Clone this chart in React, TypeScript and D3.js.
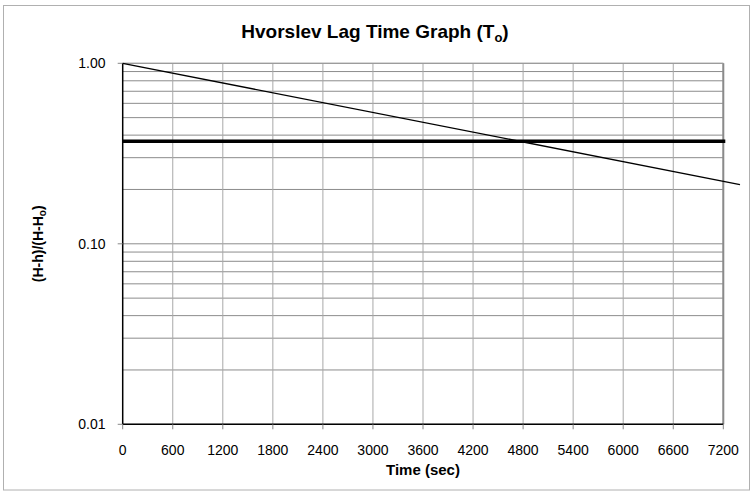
import React from "react";
import * as d3 from "d3";

// Normalized head ratio vs. time, Hvorslev slug test
const timeSec = [0, 7400];
const headRatio = [1.0, 0.213];
// 0.37 reference level used to read the basic time lag T0
const lagLevel = 0.37;

const xTicks = [0, 600, 1200, 1800, 2400, 3000, 3600, 4200, 4800, 5400, 6000, 6600, 7200];
const yMajorTicks = [1, 0.1, 0.01];
const yTickLabels = ["1.00", "0.10", "0.01"];

const W = 753;
const H = 493;
const M = { left: 122.7, right: 723.3, top: 63.3, bottom: 424.3 };
const FONT = "'Liberation Sans', Arial, Helvetica, sans-serif";

export default function App() {
  const x = d3.scaleLinear().domain([0, 7200]).range([M.left, M.right]);
  const y = d3.scaleLog().domain([0.01, 1]).range([M.bottom, M.top]);

  // minor log grid: 0.01..0.09, 0.1..0.9, 1
  const yGrid: number[] = [];
  [0.01, 0.1].forEach((d) => {
    for (let k = 1; k <= 9; k++) yGrid.push(+(d * k).toFixed(4));
  });
  yGrid.push(1);

  const line = d3
    .line<number>()
    .x((_, i) => x(timeSec[i]))
    .y((v) => y(v));

  return (
    <div style={{ position: "fixed", left: 0, top: 0 }}>
      <svg width={W} height={H} style={{ display: "block", background: "#fff" }}>
        <rect x={3.5} y={5.5} width={746} height={484.5} fill="none" stroke="#b0b0b0" strokeWidth={1} />

        {/* horizontal grid */}
        {yGrid.map((v) => (
          <line key={"hy" + v} x1={M.left} x2={M.right} y1={y(v)} y2={y(v)} stroke="#8c8c8c" strokeWidth={1} />
        ))}
        {/* vertical grid */}
        {xTicks.slice(1).map((t) => (
          <line key={"vx" + t} x1={x(t)} x2={x(t)} y1={M.top} y2={M.bottom} stroke="#a8a8a8" strokeWidth={1} />
        ))}
        {/* right & top frame */}
        <line x1={M.right} x2={M.right} y1={M.top} y2={M.bottom} stroke="#8a8a8a" strokeWidth={2} />
        <line x1={M.left} x2={M.right} y1={M.top} y2={M.top} stroke="#9a9a9a" strokeWidth={1} />

        {/* axes */}
        <line x1={M.left} x2={M.left} y1={M.top} y2={M.bottom} stroke="#000" strokeWidth={1.5} />
        <line x1={M.left} x2={M.right} y1={M.bottom} y2={M.bottom} stroke="#000" strokeWidth={1.5} />

        {/* ticks */}
        {yMajorTicks.map((v) => (
          <line key={"ty" + v} x1={M.left - 5} x2={M.left} y1={y(v)} y2={y(v)} stroke="#888" strokeWidth={1} />
        ))}
        {xTicks.map((t) => (
          <line key={"tx" + t} x1={x(t)} x2={x(t)} y1={M.bottom} y2={M.bottom + 5} stroke="#888" strokeWidth={1} />
        ))}

        {/* T0 reference level */}
        <line x1={M.left} x2={M.right + 2} y1={y(lagLevel)} y2={y(lagLevel)} stroke="#000" strokeWidth={3.5} />

        {/* decay line */}
        <path d={line(headRatio) || ""} fill="none" stroke="#000" strokeWidth={1.3} />

        {/* tick labels */}
        {yMajorTicks.map((v, i) => (
          <text key={"ly" + v} x={105.5} y={y(v)} dy="0.35em" textAnchor="end" fontFamily={FONT} fontSize={14} fill="#000">
            {yTickLabels[i]}
          </text>
        ))}
        {xTicks.map((t) => (
          <text key={"lx" + t} x={x(t)} y={455} textAnchor="middle" fontFamily={FONT} fontSize={14} fill="#000">
            {t}
          </text>
        ))}

        {/* titles */}
        <text x={375} y={38} textAnchor="middle" fontFamily={FONT} fontSize={19} fontWeight="bold" fill="#000">
          Hvorslev Lag Time Graph (T<tspan fontSize={13} dy={4}>o</tspan><tspan dy={-4}>)</tspan>
        </text>
        <text x={(M.left + M.right) / 2} y={475} textAnchor="middle" fontFamily={FONT} fontSize={15} fontWeight="bold" fill="#000">
          Time (sec)
        </text>
        <text
          transform={`translate(43, ${(M.top + M.bottom) / 2}) rotate(-90)`}
          textAnchor="middle"
          fontFamily={FONT}
          fontSize={14}
          fontWeight="bold"
          fill="#000"
        >
          (H-h)/(H-H<tspan fontSize={10} dy={3}>o</tspan><tspan dy={-3}>)</tspan>
        </text>
      </svg>
    </div>
  );
}
